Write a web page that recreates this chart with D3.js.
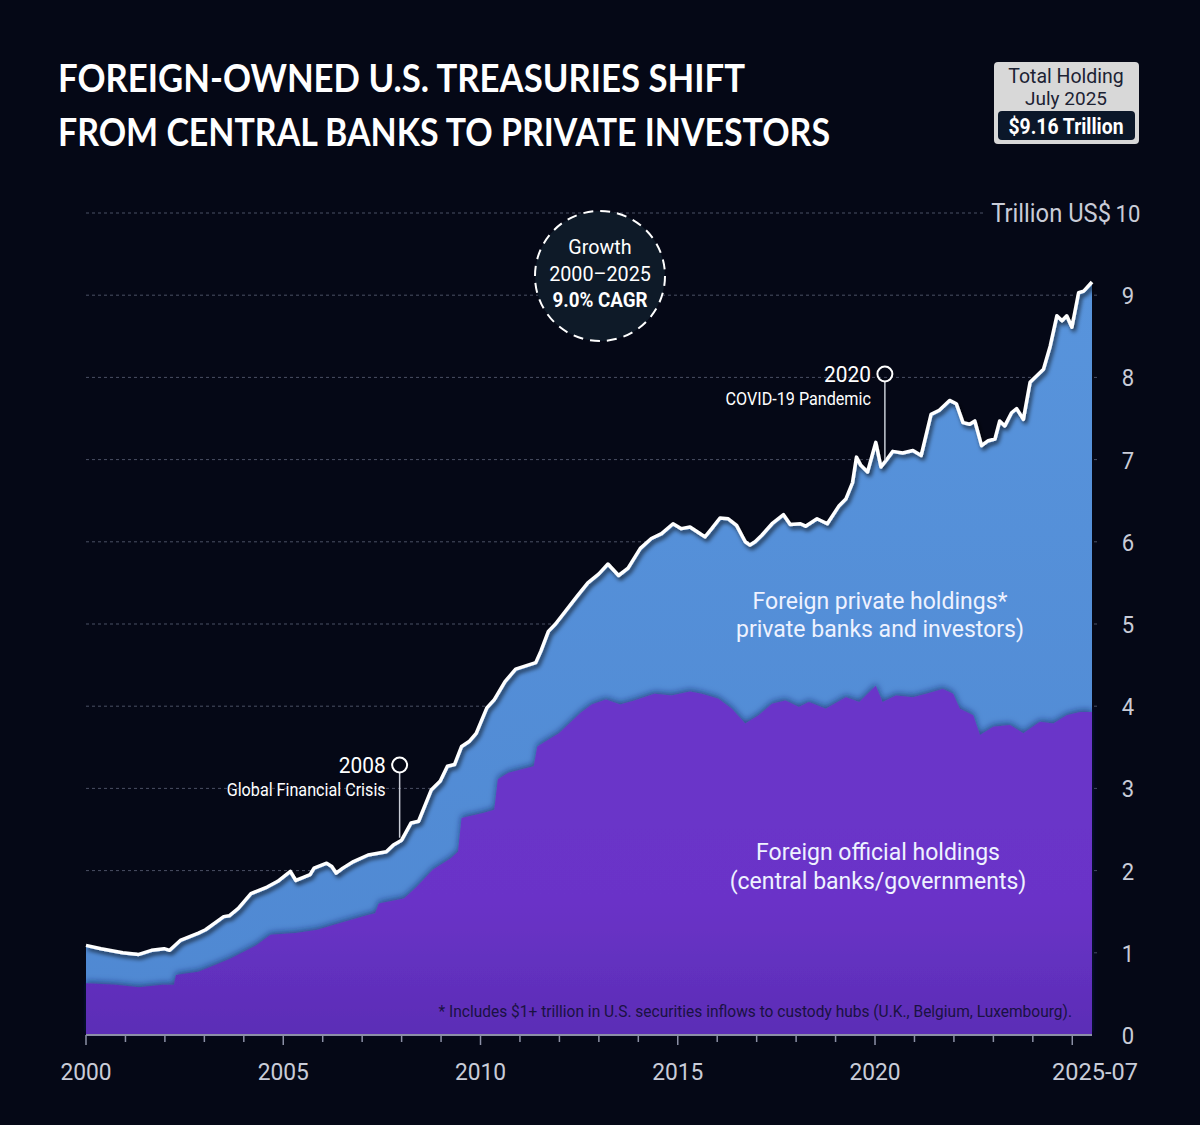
<!DOCTYPE html>
<html>
<head>
<meta charset="utf-8">
<title>Foreign-owned U.S. Treasuries</title>
<script src="https://d3js.org/d3.v7.min.js" charset="utf-8"></script>
<style>
  html, body { margin: 0; padding: 0; background: #050816; }
  svg text { font-family: "Roboto", "Noto Sans", sans-serif; }
  .title { font-family: "Lato", "Open Sans", sans-serif !important; font-weight: 700; fill: #ffffff; }
</style>
</head>
<body>
<script>
// total foreign holdings (trillion US$)
var totalYears = [2000.00, 2000.38, 2000.93, 2001.34, 2001.66, 2001.98, 2002.12, 2002.39, 2002.85, 2003.03,
  2003.49, 2003.63, 2003.86, 2004.18, 2004.59, 2004.86, 2005.18, 2005.32, 2005.68, 2005.78,
  2006.10, 2006.23, 2006.34, 2006.51, 2006.78, 2007.15, 2007.61, 2007.79, 2008.00, 2008.24,
  2008.43, 2008.75, 2008.98, 2009.16, 2009.34, 2009.52, 2009.71, 2009.89, 2010.16, 2010.35,
  2010.62, 2010.89, 2011.40, 2011.53, 2011.72, 2011.90, 2012.45, 2012.72, 2013.00, 2013.23,
  2013.50, 2013.74, 2014.05, 2014.33, 2014.59, 2014.88, 2015.09, 2015.31, 2015.56, 2015.69,
  2015.86, 2016.07, 2016.28, 2016.49, 2016.71, 2016.83, 2016.96, 2017.13, 2017.39, 2017.68,
  2017.85, 2018.11, 2018.24, 2018.53, 2018.79, 2019.09, 2019.26, 2019.43, 2019.53, 2019.64,
  2019.81, 2020.02, 2020.15, 2020.28, 2020.45, 2020.70, 2020.96, 2021.17, 2021.42, 2021.63,
  2021.89, 2022.06, 2022.23, 2022.40, 2022.53, 2022.70, 2022.87, 2023.04, 2023.16, 2023.29,
  2023.46, 2023.59, 2023.76, 2023.93, 2024.10, 2024.27, 2024.44, 2024.61, 2024.74, 2024.86,
  2024.99, 2025.16, 2025.29, 2025.50];
var totalValues = [1.09, 1.05, 1.00, 0.98, 1.03, 1.05, 1.03, 1.15, 1.24, 1.28,
  1.44, 1.45, 1.54, 1.72, 1.80, 1.87, 1.99, 1.88, 1.95, 2.03,
  2.09, 2.05, 1.97, 2.03, 2.11, 2.19, 2.23, 2.31, 2.37, 2.58,
  2.60, 2.98, 3.09, 3.27, 3.29, 3.51, 3.57, 3.67, 3.98, 4.08,
  4.30, 4.45, 4.53, 4.67, 4.91, 5.00, 5.34, 5.50, 5.61, 5.73,
  5.59, 5.68, 5.92, 6.04, 6.10, 6.22, 6.16, 6.18, 6.10, 6.06,
  6.16, 6.29, 6.28, 6.20, 6.00, 5.96, 6.00, 6.08, 6.22, 6.33,
  6.21, 6.22, 6.19, 6.28, 6.22, 6.44, 6.52, 6.72, 7.03, 6.93,
  6.85, 7.21, 6.91, 6.99, 7.10, 7.08, 7.11, 7.05, 7.55, 7.60,
  7.72, 7.68, 7.45, 7.43, 7.47, 7.17, 7.23, 7.25, 7.47, 7.41,
  7.57, 7.62, 7.49, 7.94, 8.02, 8.10, 8.38, 8.75, 8.69, 8.75,
  8.61, 9.03, 9.05, 9.16];

// foreign official holdings (central banks / governments)
var officialYears = [2000.00, 2000.75, 2001.34, 2001.94, 2002.23, 2002.28, 2002.85, 2003.26, 2003.67, 2004.31,
  2004.68, 2005.32, 2005.87, 2006.42, 2007.15, 2007.33, 2007.42, 2008.06, 2008.38, 2008.79,
  2009.25, 2009.43, 2009.52, 2010.07, 2010.35, 2010.44, 2010.71, 2011.35, 2011.44, 2011.99,
  2012.54, 2012.82, 2013.18, 2013.54, 2013.90, 2014.41, 2014.84, 2015.31, 2015.60, 2016.03,
  2016.37, 2016.71, 2017.05, 2017.39, 2017.73, 2018.07, 2018.32, 2018.75, 2019.26, 2019.60,
  2020.02, 2020.19, 2020.53, 2020.96, 2021.30, 2021.72, 2021.98, 2022.15, 2022.49, 2022.66,
  2023.00, 2023.42, 2023.76, 2024.18, 2024.52, 2024.86, 2025.20, 2025.50];
var officialValues = [0.63, 0.61, 0.58, 0.61, 0.61, 0.73, 0.77, 0.85, 0.93, 1.09,
  1.22, 1.24, 1.28, 1.36, 1.46, 1.48, 1.60, 1.66, 1.80, 2.01,
  2.15, 2.23, 2.64, 2.70, 2.74, 3.11, 3.19, 3.27, 3.51, 3.67,
  3.92, 4.02, 4.08, 4.02, 4.07, 4.15, 4.13, 4.18, 4.15, 4.09,
  3.97, 3.79, 3.89, 4.03, 4.07, 3.99, 4.05, 3.97, 4.11, 4.05,
  4.25, 4.05, 4.13, 4.11, 4.15, 4.21, 4.15, 3.97, 3.89, 3.65,
  3.75, 3.77, 3.67, 3.81, 3.79, 3.89, 3.93, 3.93];

var yTicks = [0, 1, 2, 3, 4, 5, 6, 7, 8, 9, 10];
var xLabelYears = [2000, 2005, 2010, 2015, 2020];
var xLabels = ["2000", "2005", "2010", "2015", "2020"];

var width = 1200, height = 1125;

var svg = d3.select("body").append("svg")
    .attr("width", width)
    .attr("height", height)
    .style("display", "block");

svg.append("rect").attr("width", width).attr("height", height).attr("fill", "#050816");

// scales
var x = d3.scaleLinear().domain([2000, 2025.5]).range([86, 1092]);
var y = d3.scaleLinear().domain([0, 10]).range([1035, 213]);

var defs = svg.append("defs");

var purpleGrad = defs.append("linearGradient").attr("id", "purpleGrad")
    .attr("x1", 0).attr("y1", 0).attr("x2", 0).attr("y2", 1);
purpleGrad.append("stop").attr("offset", "0%").attr("stop-color", "#6a36c9");
purpleGrad.append("stop").attr("offset", "60%").attr("stop-color", "#6b33c8");
purpleGrad.append("stop").attr("offset", "100%").attr("stop-color", "#5b2db6");

var blueGrad = defs.append("linearGradient").attr("id", "blueGrad")
    .attr("x1", 0).attr("y1", 0).attr("x2", 0).attr("y2", 1);
blueGrad.append("stop").attr("offset", "0%").attr("stop-color", "#5894dc");
blueGrad.append("stop").attr("offset", "100%").attr("stop-color", "#4f88d2");

var shadow = defs.append("filter").attr("id", "shadow")
    .attr("x", "-5%").attr("y", "-10%").attr("width", "110%").attr("height", "120%");
shadow.append("feDropShadow").attr("dx", 2).attr("dy", 3).attr("stdDeviation", 2)
    .attr("flood-color", "#000000").attr("flood-opacity", 0.7);

var upShadow = defs.append("filter").attr("id", "upShadow")
    .attr("x", "-5%").attr("y", "-10%").attr("width", "110%").attr("height", "120%");
upShadow.append("feDropShadow").attr("dx", 0).attr("dy", -2).attr("stdDeviation", 3)
    .attr("flood-color", "#10205a").attr("flood-opacity", 0.6);

// condensed-looking text: squeeze horizontally, keep height
function label(px, py, anchor, size, str, fill, sx, weight) {
  return svg.append("text")
      .attr("transform", "translate(" + px + "," + py + ") scale(" + (sx || 1) + ",1)")
      .attr("text-anchor", anchor)
      .attr("fill", fill)
      .style("font-size", size + "px")
      .style("font-weight", weight || "normal")
      .text(str);
}

// gridlines
svg.append("g").selectAll("line")
    .data(yTicks.filter(function(d) { return d > 0; }))
    .enter().append("line")
    .attr("x1", 86)
    .attr("x2", function(d) { return d === 10 ? 984 : 1100; })
    .attr("y1", function(d) { return y(d); })
    .attr("y2", function(d) { return y(d); })
    .attr("stroke", "#4a5064")
    .attr("stroke-width", 1)
    .attr("stroke-dasharray", "3,3");

var totalData = totalYears.map(function(t, i) { return { t: t, v: totalValues[i] }; });
var officialData = officialYears.map(function(t, i) { return { t: t, v: officialValues[i] }; });

var area = d3.area()
    .x(function(d) { return x(d.t); })
    .y0(y(0))
    .y1(function(d) { return y(d.v); });

var line = d3.line()
    .x(function(d) { return x(d.t); })
    .y(function(d) { return y(d.v); });

// private holdings = the band between official and total
svg.append("path").datum(totalData)
    .attr("d", area)
    .attr("fill", "url(#blueGrad)");

svg.append("path").datum(officialData)
    .attr("d", area)
    .attr("fill", "url(#purpleGrad)")
    .attr("filter", "url(#upShadow)");

svg.append("path").datum(totalData)
    .attr("d", line)
    .attr("fill", "none")
    .attr("stroke", "#ffffff")
    .attr("stroke-width", 3.5)
    .attr("stroke-linejoin", "round")
    .attr("filter", "url(#shadow)");

// x axis
var xAxisG = svg.append("g");
xAxisG.append("line")
    .attr("x1", 86).attr("x2", 1092)
    .attr("y1", y(0)).attr("y2", y(0))
    .attr("stroke", "#8c90a6").attr("stroke-width", 2);
xAxisG.selectAll("line.tick")
    .data(d3.range(2000, 2026))
    .enter().append("line")
    .attr("class", "tick")
    .attr("x1", function(d) { return x(d); })
    .attr("x2", function(d) { return x(d); })
    .attr("y1", y(0))
    .attr("y2", function(d) { return y(0) + (d % 5 === 0 ? 10 : 7); })
    .attr("stroke", "#8c90a6").attr("stroke-width", 1.5);
xLabelYears.forEach(function(d, i) {
  label(x(d), 1080, "middle", 24, xLabels[i], "#c9ccd8", 0.95);
});
label(x(2025.5) + 3, 1080, "middle", 24, "2025-07", "#c9ccd8", 0.98);

// y axis labels
yTicks.forEach(function(d) {
  label(1128, y(d) + 9, "middle", 24, String(d), "#c9ccd8", 0.92);
});
label(1111, y(10) + 9, "end", 25, "Trillion US$", "#c9ccd8", 0.95);

// title
svg.append("text").attr("class", "title")
    .attr("x", 58).attr("y", 92)
    .attr("textLength", 687).attr("lengthAdjust", "spacingAndGlyphs")
    .style("font-size", "38px")
    .text("FOREIGN-OWNED U.S. TREASURIES SHIFT");
svg.append("text").attr("class", "title")
    .attr("x", 58).attr("y", 146)
    .attr("textLength", 772).attr("lengthAdjust", "spacingAndGlyphs")
    .style("font-size", "38px")
    .text("FROM CENTRAL BANKS TO PRIVATE INVESTORS");

// total holding box
svg.append("rect")
    .attr("x", 994).attr("y", 62).attr("width", 145).attr("height", 82).attr("rx", 4)
    .attr("fill", "#d8d8d8");
svg.append("rect")
    .attr("x", 998).attr("y", 111).attr("width", 137).attr("height", 29).attr("rx", 4)
    .attr("fill", "#0b1729");
label(1066, 83, "middle", 19.5, "Total Holding", "#1c2233", 1.0);
label(1066, 105, "middle", 19, "July 2025", "#1c2233", 1.0);
label(1066, 134, "middle", 22, "$9.16 Trillion", "#ffffff", 0.88, "bold");

// growth badge
svg.append("circle")
    .attr("cx", 600).attr("cy", 276).attr("r", 65)
    .attr("fill", "#0e1a28")
    .attr("stroke", "#ffffff").attr("stroke-width", 2)
    .attr("stroke-dasharray", "10,7");
label(600, 254, "middle", 21, "Growth", "#ffffff", 0.94);
label(600, 281, "middle", 21, "2000\u20132025", "#ffffff", 0.94);
label(600, 307, "middle", 20, "9.0% CAGR", "#ffffff", 0.94, "bold");

// event annotations
function annotate(t, v, cy, year, text) {
  var cx = x(t);
  svg.append("line")
      .attr("x1", cx).attr("x2", cx)
      .attr("y1", cy + 8).attr("y2", y(v))
      .attr("stroke", "#c8ccd6").attr("stroke-width", 1.5);
  svg.append("circle")
      .attr("cx", cx).attr("cy", cy).attr("r", 7.5)
      .attr("fill", "none").attr("stroke", "#ffffff").attr("stroke-width", 2);
  label(cx - 14, cy + 8, "end", 22, year, "#ffffff", 0.95);
  label(cx - 14, cy + 31, "end", 19, text, "#ffffff", 0.85);
}
annotate(2007.95, 2.4, 765, "2008", "Global Financial Crisis");
annotate(2020.25, 6.99, 374, "2020", "COVID-19 Pandemic");

// area labels
label(880, 609, "middle", 23, "Foreign private holdings*", "#eef2ff", 1);
label(880, 637, "middle", 23, "private banks and investors)", "#eef2ff", 1);
label(878, 860, "middle", 23, "Foreign official holdings", "#eef2ff", 1);
label(878, 889, "middle", 23, "(central banks/governments)", "#eef2ff", 1);

// footnote
label(1072, 1017, "end", 16, "* Includes $1+ trillion in U.S. securities inflows to custody hubs (U.K., Belgium, Luxembourg).", "#1a1242", 0.97);
</script>
</body>
</html>
